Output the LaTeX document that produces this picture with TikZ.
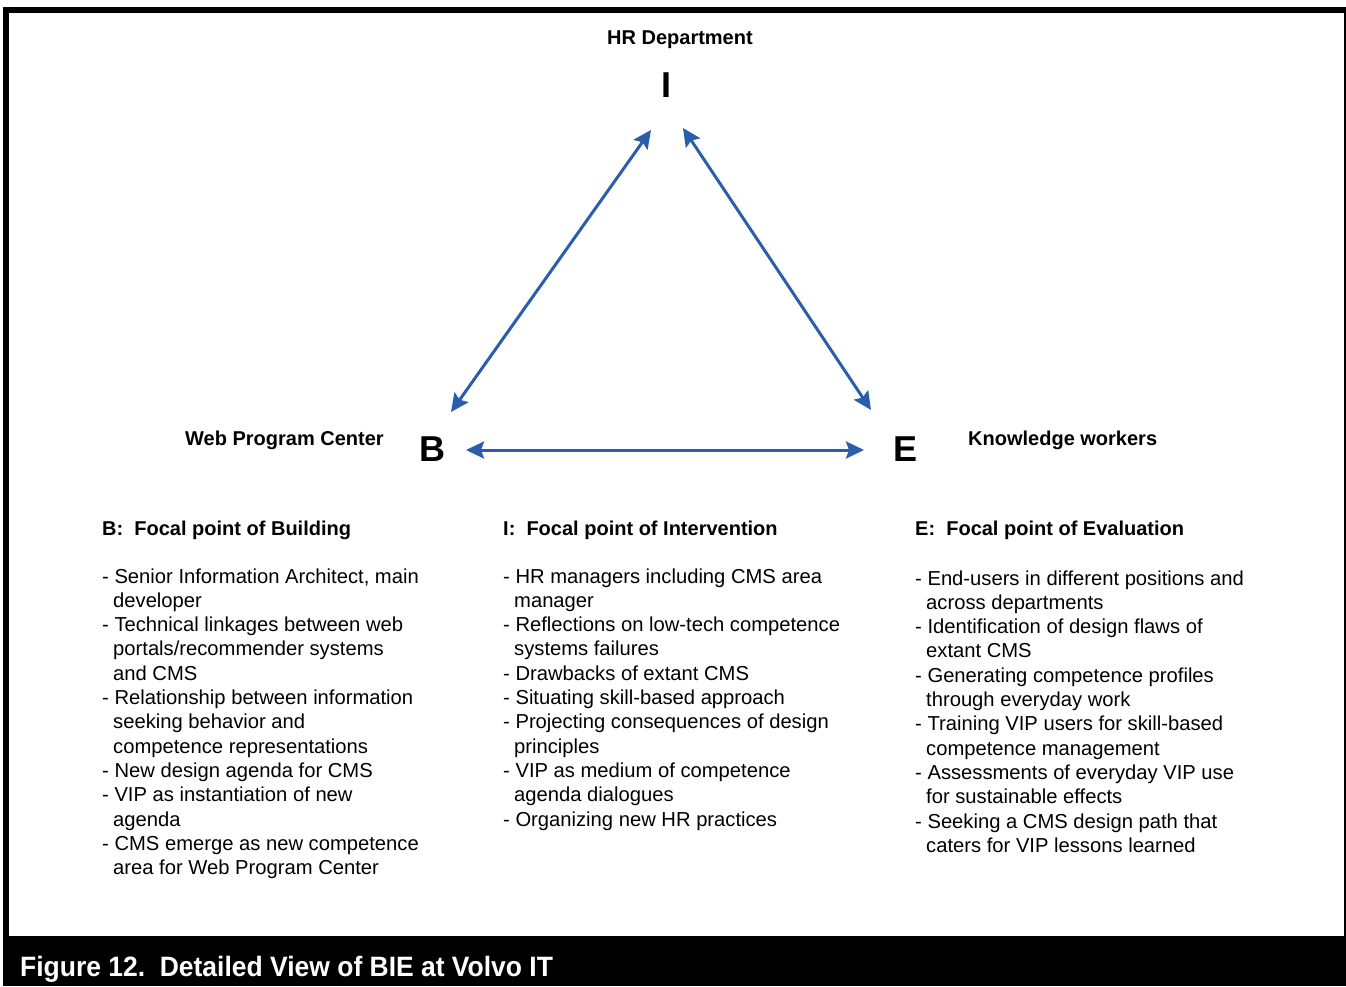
\documentclass[tikz,border=0pt]{standalone}
\usepackage{fontspec}
\setmainfont{Liberation Sans}
\usetikzlibrary{arrows.meta}
\definecolor{linkblue}{RGB}{42,94,170}
\frenchspacing
\newcommand{\cont}{\hspace*{11pt}}
\begin{document}
\begin{tikzpicture}[x=1pt,y=-1pt,
  label/.style={anchor=base west, inner sep=0pt, font=\fontsize{20}{24}\bfseries\selectfont},
  corner/.style={anchor=base, inner sep=0pt, font=\fontsize{36}{40}\bfseries\selectfont},
  listtext/.style={anchor=base west, inner sep=0pt, font=\fontsize{20.2}{24.3}\selectfont},
  link/.style={draw=linkblue, line width=3pt, {Stealth[length=18pt,width=17pt,inset=3pt]}-{Stealth[length=18pt,width=17pt,inset=3pt]}}
]
\useasboundingbox (0,0) rectangle (1346,986);
\fill[white] (0,0) rectangle (1346,986);
% frame and caption band
\fill[black] (3,7) rectangle (1346,986);
\fill[white] (9,13) rectangle (1344,936);
\node[anchor=base west, inner sep=0pt, text=white, xscale=0.945,
  font=\fontsize{28}{30}\bfseries\selectfont] (cap) at (20,976)
  {Figure 12.\ \ Detailed View of BIE at Volvo IT};

% triangle corners
\node[label] (hr) at (607,44) {HR Department};
\node[corner] (I) at (666,97) {I};
\node[label] (wpc) at (185,445) {Web Program Center};
\node[corner] (B) at (432,461) {B};
\node[corner] (E) at (905,461) {E};
\node[label] (kw) at (968,445) {Knowledge workers};

% arrow end points around the corners
\coordinate (bi) at (451,412);
\coordinate (ib) at (651,130);
\coordinate (ie) at (683,128);
\coordinate (ei) at (871,410);
\coordinate (be) at (466,450);
\coordinate (eb) at (864,450);
\draw[link] (bi) -- (ib);
\draw[link] (ie) -- (ei);
\draw[link] (be) -- (eb);

% column headings
\node[label] (hb) at (102,535) {B:\ \ Focal point of Building};
\node[label] (hi) at (503,535) {I:\ \ Focal point of Intervention};
\node[label] (he) at (915,535) {E:\ \ Focal point of Evaluation};

% column lists, anchored at the baseline of their first line
\node[listtext] (lb) at (102,583) {\begin{tabular}[t]{@{}l@{}}
- Senior Information Architect, main\\
\cont developer\\
- Technical linkages between web\\
\cont portals/recommender systems\\
\cont and CMS\\
- Relationship between information\\
\cont seeking behavior and\\
\cont competence representations\\
- New design agenda for CMS\\
- VIP as instantiation of new\\
\cont agenda\\
- CMS emerge as new competence\\
\cont area for Web Program Center
\end{tabular}};

\node[listtext] (li) at (503,583) {\begin{tabular}[t]{@{}l@{}}
- HR managers including CMS area\\
\cont manager\\
- Reflections on low-tech competence\\
\cont systems failures\\
- Drawbacks of extant CMS\\
- Situating skill-based approach\\
- Projecting consequences of design\\
\cont principles\\
- VIP as medium of competence\\
\cont agenda dialogues\\
- Organizing new HR practices
\end{tabular}};

\node[listtext] (le) at (915,585) {\begin{tabular}[t]{@{}l@{}}
- End-users in different positions and\\
\cont across departments\\
- Identification of design flaws of\\
\cont extant CMS\\
- Generating competence profiles\\
\cont through everyday work\\
- Training VIP users for skill-based\\
\cont competence management\\
- Assessments of everyday VIP use\\
\cont for sustainable effects\\
- Seeking a CMS design path that\\
\cont caters for VIP lessons learned
\end{tabular}};
\end{tikzpicture}
\end{document}
